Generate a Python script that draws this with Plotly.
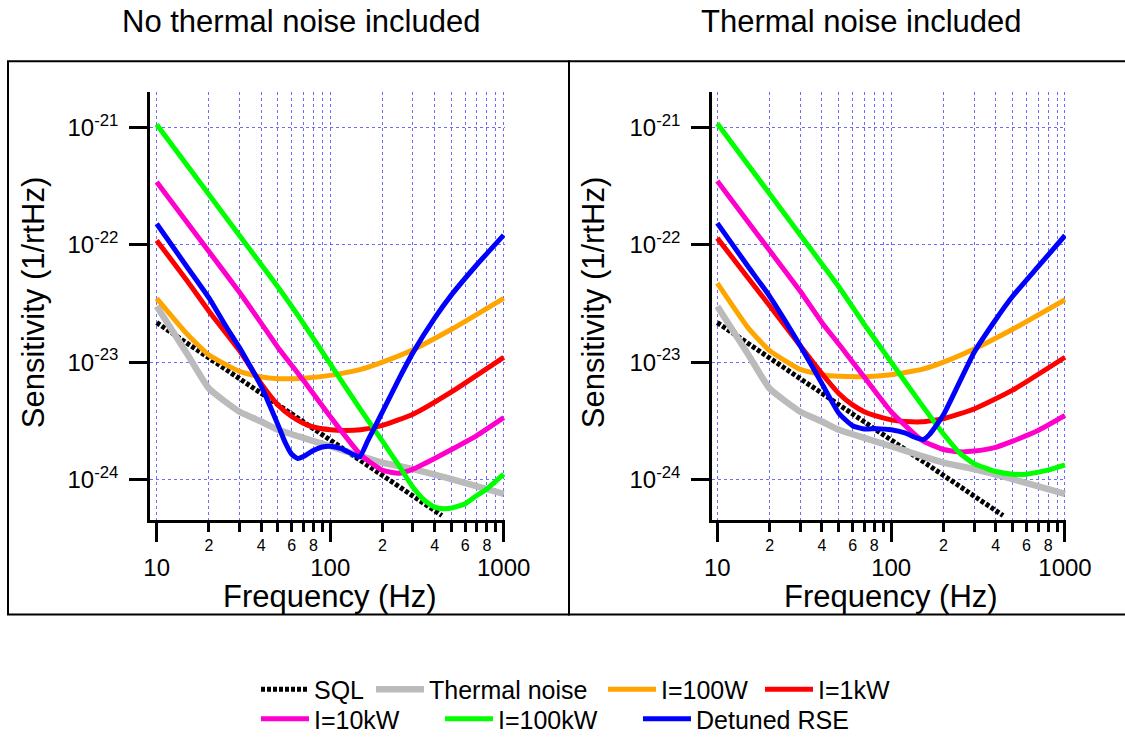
import plotly.graph_objects as go

W, H = 1125, 742
FONT = "Liberation Sans, Arial, sans-serif"

# ---------------- data (frequency in Hz, sensitivity in 1/rtHz) ----------------
freq_sql = [10, 100, 440]
sql = [2.17e-23, 2.17e-24, 4.93e-25]

freq_thermal = [10, 15, 20, 30, 40, 50, 70, 100, 150, 200, 300, 500, 1000]
thermal = [2.99e-23, 1.175e-23, 5.96e-24, 3.78e-24, 3.12e-24, 2.65e-24, 2.26e-24,
           1.92e-24, 1.585e-24, 1.39e-24, 1.225e-24, 1.007e-24, 7.53e-25]

# --- panel 1: no thermal noise included ---
freq_100w = [10, 15, 20, 30, 40, 50, 70, 100, 150, 200, 300, 500, 1000]
i100w_a = [3.50e-23, 1.73e-23, 1.15e-23, 8.34e-24, 7.46e-24, 7.23e-24, 7.28e-24,
           7.71e-24, 8.67e-24, 1.0e-23, 1.276e-23, 1.905e-23, 3.50e-23]

freq_1kw = [10, 15, 20, 30, 40, 50, 60, 70, 80, 100, 120, 150, 200, 300, 500, 1000]
i1kw_a = [1.09e-22, 4.92e-23, 2.72e-23, 1.253e-23, 6.56e-24, 4.32e-24, 3.44e-24, 3.02e-24,
          2.80e-24, 2.65e-24, 2.61e-24, 2.65e-24, 2.89e-24, 3.60e-24, 5.58e-24, 1.10e-23]

freq_10kw = [10, 20, 30, 40, 50, 70, 100, 150, 200, 250, 300, 400, 500, 700, 1000]
i10kw_a = [3.42e-22, 8.75e-23, 3.94e-23, 2.15e-23, 1.334e-23, 7.0e-24, 3.44e-24, 1.62e-24,
           1.20e-24, 1.13e-24, 1.225e-24, 1.51e-24, 1.80e-24, 2.37e-24, 3.37e-24]

freq_100kw_a = [10, 20, 30, 50, 70, 100, 150, 200, 250, 300, 350, 400, 450, 500, 600, 700, 800, 1000]
i100kw_a = [1.06e-21, 2.68e-22, 1.20e-22, 4.36e-23, 2.14e-23, 9.66e-24, 3.92e-24, 2.12e-24,
            1.30e-24, 8.57e-25, 6.62e-25, 5.82e-25, 5.64e-25, 5.71e-25, 6.21e-25, 7.30e-25,
            8.30e-25, 1.11e-24]

freq_rse_a = [10, 15, 20, 25, 30, 40, 50, 55, 60, 65, 70, 80, 90, 100, 115, 135, 148, 165,
              200, 250, 300, 400, 500, 700, 1000]
rse_a = [1.51e-22, 6.44e-23, 3.53e-23, 2.03e-23, 1.33e-23, 6.24e-24, 2.92e-24, 2.07e-24,
         1.64e-24, 1.51e-24, 1.57e-24, 1.77e-24, 1.89e-24, 1.92e-24, 1.84e-24, 1.64e-24,
         1.56e-24, 2.15e-24, 3.77e-24, 7.28e-24, 1.205e-23, 2.37e-23, 3.74e-23, 6.76e-23,
         1.21e-22]

# --- panel 2: thermal noise included ---
i100w_b = [4.71e-23, 1.97e-23, 1.253e-23, 8.67e-24, 7.82e-24, 7.57e-24, 7.52e-24,
           7.82e-24, 8.67e-24, 1.0e-23, 1.294e-23, 1.905e-23, 3.41e-23]

i1kw_b = [1.14e-22, 5.24e-23, 3.02e-23, 1.38e-23, 7.96e-24, 5.41e-24, 4.32e-24, 3.78e-24,
          3.51e-24, 3.22e-24, 3.12e-24, 3.10e-24, 3.29e-24, 3.99e-24, 5.77e-24, 1.10e-23]

i10kw_b = [3.49e-22, 8.93e-23, 4.02e-23, 2.17e-23, 1.426e-23, 7.46e-24, 3.78e-24, 2.16e-24,
           1.80e-24, 1.72e-24, 1.746e-24, 1.88e-24, 2.12e-24, 2.61e-24, 3.51e-24]

freq_100kw_b = [10, 20, 30, 50, 70, 100, 150, 200, 250, 300, 400, 500, 600, 800, 1000]
i100kw_b = [1.08e-21, 2.72e-22, 1.21e-22, 4.39e-23, 2.10e-23, 1.0e-23, 4.32e-24, 2.44e-24,
            1.66e-24, 1.365e-24, 1.17e-24, 1.11e-24, 1.11e-24, 1.20e-24, 1.33e-24]

freq_rse_b = [10, 15, 20, 30, 40, 50, 60, 70, 83, 100, 120, 140, 153, 166, 200, 300, 400,
              500, 700, 1000]
rse_b = [1.53e-22, 6.56e-23, 3.64e-23, 1.38e-23, 6.56e-24, 3.67e-24, 2.87e-24, 2.69e-24,
         2.71e-24, 2.65e-24, 2.49e-24, 2.26e-24, 2.19e-24, 2.41e-24, 3.56e-24, 1.21e-23,
         2.31e-23, 3.64e-23, 6.50e-23, 1.20e-22]

panel_titles = ["No thermal noise included", "Thermal noise included"]
x_title = "Frequency (Hz)"
y_title = "Sensitivity (1/rtHz)"
x_major = [10, 100, 1000]
x_major_text = ["10", "100", "1000"]
x_minor = [20, 30, 40, 50, 60, 70, 80, 90, 200, 300, 400, 500, 600, 700, 800, 900]
x_minor_labeled = [20, 40, 60, 80, 200, 400, 600, 800]
x_minor_text = ["2", "4", "6", "8", "2", "4", "6", "8"]
y_major = [1e-24, 1e-23, 1e-22, 1e-21]
y_major_text = ["10<sup>-24</sup>", "10<sup>-23</sup>", "10<sup>-22</sup>", "10<sup>-21</sup>"]

# ---------------- styles ----------------
C_SQL = "#000000"
C_TH = "#BBBBBB"
C_100W = "#FFA500"
C_1KW = "#FF0000"
C_10KW = "#FF00CC"
C_100KW = "#00FF00"
C_RSE = "#0000FF"
GRID = "rgba(70,70,255,0.8)"
SMOOTH = 0.45

fig = go.Figure()

panels = [
    dict(xa="x", ya="y", sets=[(freq_100w, i100w_a), (freq_1kw, i1kw_a), (freq_10kw, i10kw_a),
                                (freq_100kw_a, i100kw_a), (freq_rse_a, rse_a)], show=True),
    dict(xa="x2", ya="y2", sets=[(freq_100w, i100w_b), (freq_1kw, i1kw_b), (freq_10kw, i10kw_b),
                                  (freq_100kw_b, i100kw_b), (freq_rse_b, rse_b)], show=False),
]
names = ["I=100W", "I=1kW", "I=10kW", "I=100kW", "Detuned RSE"]
colors = [C_100W, C_1KW, C_10KW, C_100KW, C_RSE]
legends = ["legend", "legend", "legend2", "legend2", "legend2"]
lwidths = [94, None, 121, 135, None]

for p in panels:
    fig.add_trace(go.Scatter(x=freq_sql, y=sql, mode="lines", name="SQL",
                             line=dict(color=C_SQL, width=5, dash="4px,2px"),
                             xaxis=p["xa"], yaxis=p["ya"], legend="legend",
                             legendwidth=52, showlegend=p["show"]))
    fig.add_trace(go.Scatter(x=freq_thermal, y=thermal, mode="lines", name="Thermal noise",
                             line=dict(color=C_TH, width=6.5, shape="spline", smoothing=SMOOTH),
                             xaxis=p["xa"], yaxis=p["ya"], legend="legend",
                             legendwidth=169, showlegend=p["show"]))
    for (fx, fy), nm, col, lg, lw in zip(p["sets"], names, colors, legends, lwidths):
        kw = dict(legendwidth=lw) if lw else {}
        fig.add_trace(go.Scatter(x=fx, y=fy, mode="lines", name=nm,
                                 line=dict(color=col, width=5, shape="spline", smoothing=SMOOTH),
                                 xaxis=p["xa"], yaxis=p["ya"], legend=lg,
                                 showlegend=p["show"], **kw))

# invisible anchors for the overlay axes carrying the small minor-tick labels
for xa, ya in [("x3", "y"), ("x4", "y2")]:
    fig.add_trace(go.Scatter(x=[100], y=[1e-22], mode="markers", marker=dict(opacity=0),
                             xaxis=xa, yaxis=ya, showlegend=False, hoverinfo="skip"))

common = dict(type="log", showline=True, linecolor="black", linewidth=2.5,
              ticks="outside", tickcolor="black", tickwidth=2.5,
              showgrid=True, gridcolor=GRID, griddash="3px,3px", gridwidth=1,
              zeroline=False, automargin=False, fixedrange=True,
              tickfont=dict(size=24, color="black", family=FONT))

xcommon = dict(common, tickmode="array", tickvals=x_major, ticktext=x_major_text,
               ticklen=20, ticklabelstandoff=5,
               minor=dict(tickvals=x_minor, ticklen=10, tickwidth=2.5, tickcolor="black",
                          ticks="outside", showgrid=True, gridcolor=GRID,
                          griddash="3px,3px", gridwidth=1))
ycommon = dict(common, tickmode="array", tickvals=y_major, ticktext=y_major_text,
               ticklen=18, ticklabelstandoff=6, range=[-24.342, -20.697],
               domain=[1 - 526 / H, 1 - 93 / H])
xminorlab = dict(type="log", showline=False, ticks="", showgrid=False, zeroline=False,
                 automargin=False, fixedrange=True, tickmode="array",
                 tickvals=x_minor_labeled, ticktext=x_minor_text, ticklabelstandoff=14,
                 tickfont=dict(size=16, color="black", family=FONT), side="bottom")

XR1 = [0.9614, 3.0075]
XR2 = [0.9695, 3.0058]
fig.update_layout(
    width=W, height=H, margin=dict(l=0, r=0, t=0, b=0),
    paper_bgcolor="white", plot_bgcolor="white",
    font=dict(family=FONT, color="black"),
    xaxis=dict(xcommon, domain=[150 / W, 505 / W], range=XR1, anchor="y"),
    yaxis=dict(ycommon, anchor="x"),
    xaxis2=dict(xcommon, domain=[712 / W, 1066 / W], range=XR2, anchor="y2"),
    yaxis2=dict(ycommon, anchor="x2"),
    xaxis3=dict(xminorlab, overlaying="x", anchor="y", range=XR1),
    xaxis4=dict(xminorlab, overlaying="x2", anchor="y2", range=XR2),
    legend=dict(orientation="h", x=256 / W, xanchor="left", y=1 - 698 / H, yanchor="middle",
                font=dict(size=25, color="black", family=FONT), itemwidth=48,
                bgcolor="rgba(0,0,0,0)", borderwidth=0, traceorder="normal"),
    legend2=dict(orientation="h", x=256 / W, xanchor="left", y=1 - 728 / H, yanchor="middle",
                 font=dict(size=25, color="black", family=FONT), itemwidth=48,
                 bgcolor="rgba(0,0,0,0)", borderwidth=0, traceorder="normal"),
    showlegend=True,
)

# panel boxes (the right one runs off the page edge, as in the original)
for x0, x1 in [(8, 569), (569, 1140)]:
    fig.add_shape(type="rect", xref="paper", yref="paper",
                  x0=x0 / W, x1=x1 / W, y0=1 - 622 / H, y1=1 - 62 / H,
                  line=dict(color="black", width=2), fillcolor="rgba(0,0,0,0)", layer="below")

annots = []
for cx, txt in [(301, panel_titles[0]), (861, panel_titles[1])]:
    annots.append(dict(x=cx / W, y=1 - 22 / H, xref="paper", yref="paper", text=txt,
                       showarrow=False, xanchor="center", yanchor="middle",
                       font=dict(size=31, color="black", family=FONT)))
for cx in [330, 891]:
    annots.append(dict(x=cx / W, y=1 - 604 / H, xref="paper", yref="paper", text=x_title,
                       showarrow=False, xanchor="center", yanchor="middle", borderpad=0,
                       font=dict(size=31, color="black", family=FONT)))
for cx in [33, 593]:
    annots.append(dict(x=cx / W, y=1 - 307 / H, xref="paper", yref="paper", text=y_title,
                       textangle=-90, showarrow=False, xanchor="center", yanchor="middle",
                       font=dict(size=31, color="black", family=FONT)))
fig.update_layout(annotations=annots)

fig.write_html("out.html")
